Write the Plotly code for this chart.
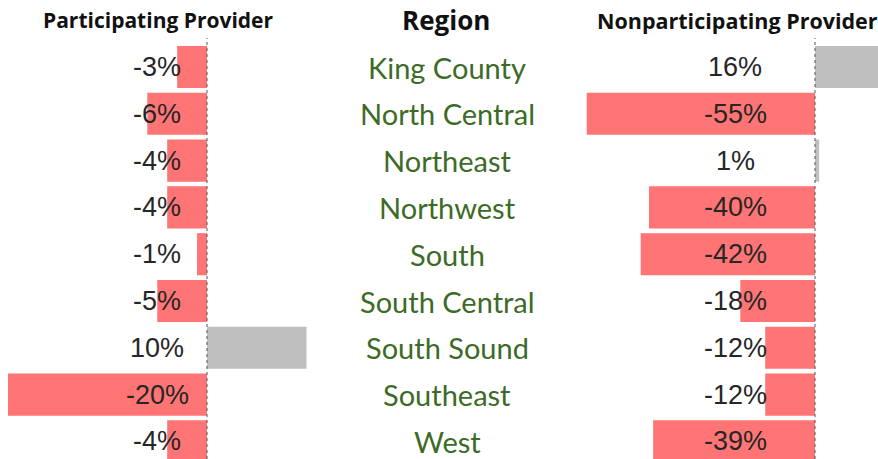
import plotly.graph_objects as go

regions = ["King County", "North Central", "Northeast", "Northwest", "South",
           "South Central", "South Sound", "Southeast", "West"]
participating = [-3, -6, -4, -4, -1, -5, 10, -20, -4]
nonparticipating = [16, -55, 1, -40, -42, -18, -12, -12, -39]
headers = ["Participating Provider", "Region", "Nonparticipating Provider"]

W, H = 878, 459
RED = "#FF7575"
GREY = "#BFBFBF"
VAL_COLOR = "#262626"
REG_COLOR = "#3d6b27"

def colors(vals):
    return [GREY if v > 0 else RED for v in vals]

fig = go.Figure()
fig.add_trace(go.Bar(y=regions, x=participating, orientation="h", xaxis="x", yaxis="y",
                     marker=dict(color=colors(participating), line=dict(width=0)),
                     width=0.9, hoverinfo="skip"))
fig.add_trace(go.Bar(y=regions, x=nonparticipating, orientation="h", xaxis="x2", yaxis="y",
                     marker=dict(color=colors(nonparticipating), line=dict(width=0)),
                     width=0.9, hoverinfo="skip"))

# pixel geometry
L0, LS = 207, 9.95   # left zero px, px per %
R0, RS = 815, 4.15
left_dom = (0, 320)
right_dom = (560, W)
row0, rowh = 67, 46.8

def rng(dom, zero, scale):
    return [(dom[0] - zero) / scale, (dom[1] - zero) / scale]

ann = []
for i, r in enumerate(regions):
    ann.append(dict(x=157 / W, xref="paper", y=r, yref="y", xanchor="center", yanchor="middle",
                    text=f"{participating[i]}%", showarrow=False,
                    font=dict(family="Liberation Sans, Arial", size=27, color=VAL_COLOR)))
    ann.append(dict(x=735 / W, xref="paper", y=r, yref="y", xanchor="center", yanchor="middle",
                    text=f"{nonparticipating[i]}%", showarrow=False,
                    font=dict(family="Liberation Sans, Arial", size=27, color=VAL_COLOR)))
    ann.append(dict(x=447 / W, xref="paper", y=r, yref="y", xanchor="center", yanchor="middle",
                    text=r, showarrow=False,
                    font=dict(family="Lato", size=29, color=REG_COLOR)))

hx = [158, 446, 737]
hsize = [21, 26, 21.5]
for t, xpx, s in zip(headers, hx, hsize):
    ann.append(dict(x=xpx / W, xref="paper", y=1 - 20 / H, yref="paper", xanchor="center",
                    yanchor="middle", text=f"<b>{t}</b>", showarrow=False,
                    font=dict(family="Open Sans", size=s, color="#111111")))

shapes = [
    dict(type="line", xref="x", x0=0, x1=0, yref="paper", y0=0, y1=1 - 38 / H,
         line=dict(color="#555555", width=1, dash="dot")),
    dict(type="line", xref="x2", x0=0, x1=0, yref="paper", y0=0, y1=1 - 38 / H,
         line=dict(color="#555555", width=1, dash="dot")),
]

fig.update_layout(
    width=W, height=H, margin=dict(l=0, r=0, t=0, b=0),
    paper_bgcolor="white", plot_bgcolor="white", showlegend=False,
    barmode="overlay",
    xaxis=dict(domain=[left_dom[0] / W, left_dom[1] / W], range=rng(left_dom, L0, LS),
               visible=False, fixedrange=True),
    xaxis2=dict(domain=[right_dom[0] / W, right_dom[1] / W], range=rng(right_dom, R0, RS),
                visible=False, fixedrange=True, anchor="y"),
    yaxis=dict(type="category", categoryorder="array", categoryarray=regions,
               range=[(H - row0) / rowh, -row0 / rowh], visible=False, fixedrange=True),
    annotations=ann, shapes=shapes,
)

fig.write_html("out.html", config={"displayModeBar": False},
               post_script="document.body.style.margin='0';document.body.style.overflow='hidden';")
